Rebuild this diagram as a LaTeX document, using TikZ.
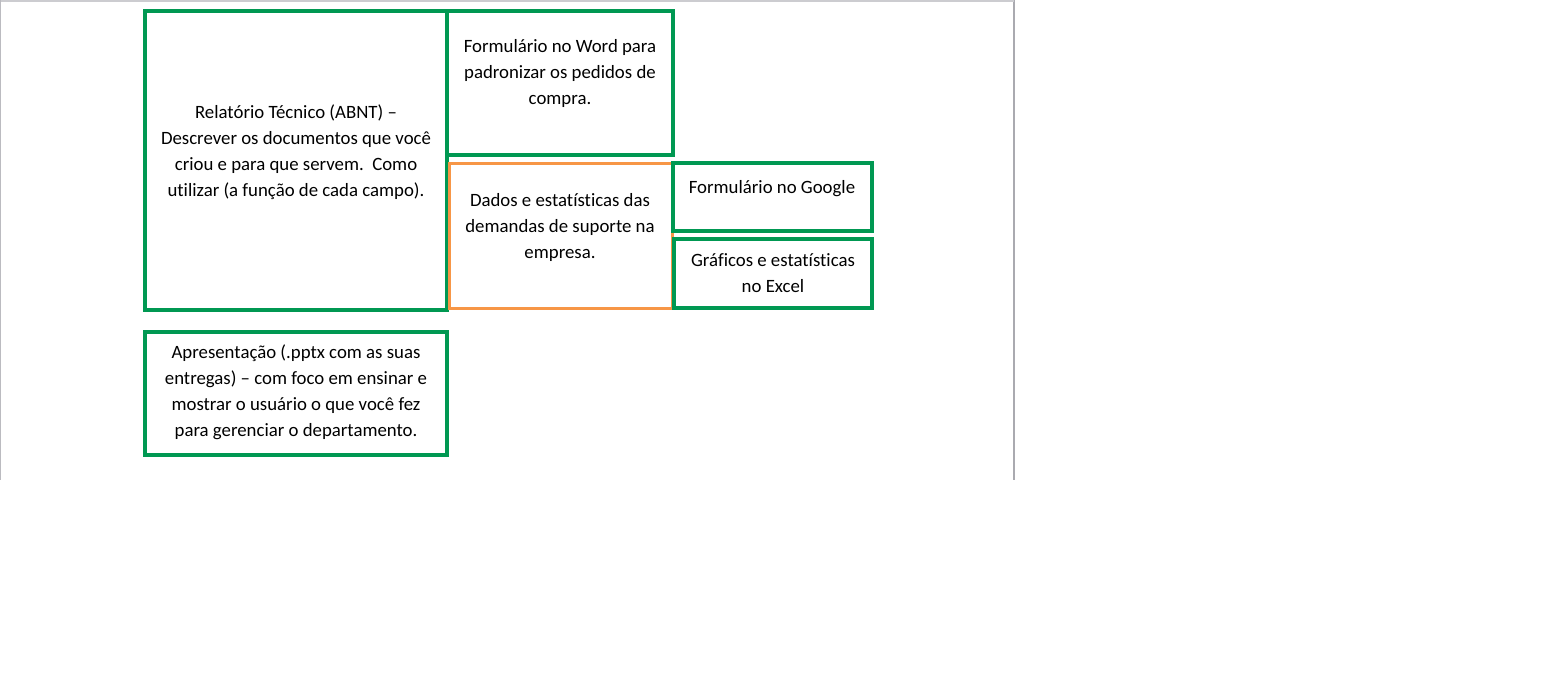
\documentclass[tikz,border=0pt]{standalone}
\usepackage{fontspec}
\setmainfont[Ligatures=NoCommon]{Carlito}
\definecolor{boxgreen}{RGB}{0,152,82}
\definecolor{boxorange}{RGB}{247,150,70}
\definecolor{pagegray}{RGB}{170,170,176}
\begin{document}
\begin{tikzpicture}[x=0.75pt,y=-0.75pt,
  cell/.style={draw=boxgreen,line width=2.4pt,inner sep=0pt},
  ocell/.style={draw=boxorange,line width=2.4pt,inner sep=0pt},
  txt/.style={align=center,font=\fontsize{14.1pt}{19.5pt}\selectfont,inner sep=0pt}]
\useasboundingbox (0,0) rectangle (1557,676);
\fill[white] (0,0) rectangle (1557,676);
% page edges
\draw[pagegray,line width=1.5pt] (1014,0) -- (1014,480);
\draw[pagegray!60,line width=1.2pt] (0,1) -- (1014,1);
\draw[pagegray!80,line width=0.8pt] (0.5,0) -- (0.5,480);
% boxes
\node[cell,minimum width=302*0.75pt,minimum height=299*0.75pt] (a) at (296,160.5) {};
\node[cell,minimum width=226*0.75pt,minimum height=144*0.75pt] (b) at (560,83) {};
\node[ocell,minimum width=223*0.75pt,minimum height=145*0.75pt] (c) at (561,236) {};
\node[cell,minimum width=199*0.75pt,minimum height=68*0.75pt] (d) at (772.5,197) {};
\node[cell,minimum width=198*0.75pt,minimum height=69*0.75pt] (e) at (773,273.5) {};
\node[cell,minimum width=302*0.75pt,minimum height=123*0.75pt] (f) at (296,393.5) {};
% texts
\node[txt] (at) at (296,152.5) {Relatório Técnico (ABNT) –\\Descrever os documentos que você\\criou e para que servem.\ \ Como\\utilizar (a função de cada campo).};
\node[txt] (bt) at (560,73.5) {Formulário no Word para\\padronizar os pedidos de\\compra.};
\node[txt] (ct) at (560,227.5) {Dados e estatísticas das\\demandas de suporte na\\empresa.};
\node[txt] (dt) at (772,188.5) {Formulário no Google};
\node[txt] (et) at (773,273.5) {Gráficos e estatísticas\\no Excel};
\node[txt] (ft) at (296,392) {Apresentação (.pptx com as suas\\entregas) – com foco em ensinar e\\mostrar o usuário o que você fez\\para gerenciar o departamento.};
\end{tikzpicture}
\end{document}
